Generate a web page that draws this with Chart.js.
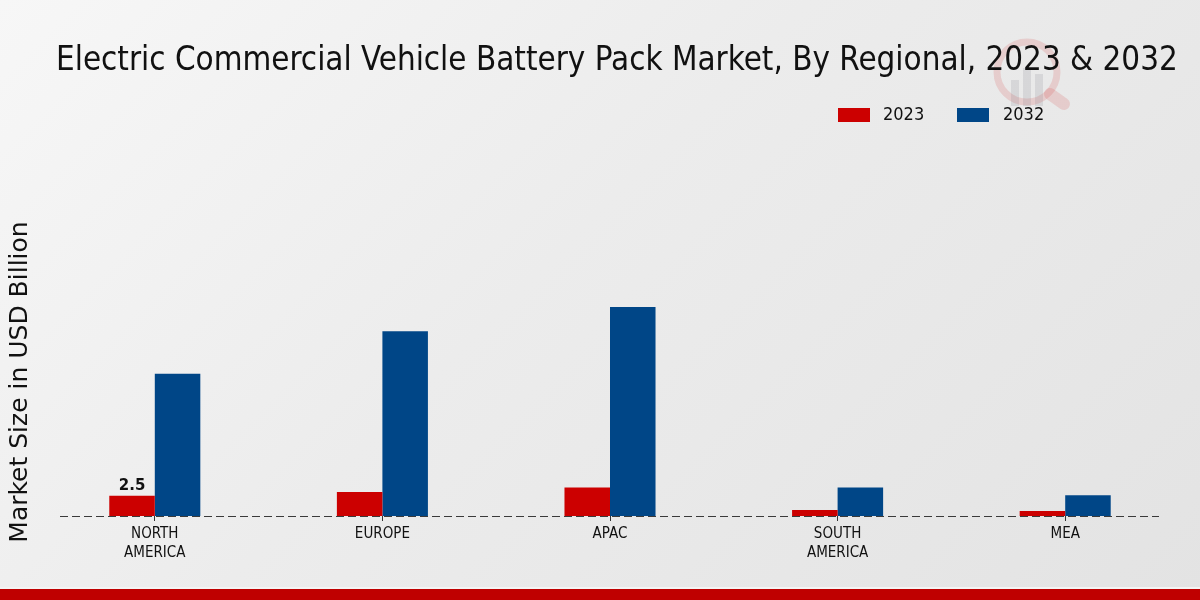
<!DOCTYPE html>
<html>
<head>
<meta charset="utf-8">
<script src="https://cdn.jsdelivr.net/npm/chart.js@4/dist/chart.umd.min.js"></script>
<style>
html,body{margin:0;padding:0;}
body{width:1200px;height:600px;overflow:hidden;background:linear-gradient(135deg,#f7f7f7 0%,#ececec 45%,#e3e3e3 100%);}
#wrap{position:relative;width:1200px;height:600px;}
#band{position:absolute;left:0;top:589px;width:1200px;height:11px;background:#bf0000;}
#bandline{position:absolute;left:0;top:587px;width:1200px;height:2px;background:#f4f4f4;}
</style>
</head>
<body>
<div id="wrap"><canvas id="c" width="1200" height="600"></canvas><div id="bandline"></div><div id="band"></div></div>
<script>
const chartTitle = "Electric Commercial Vehicle Battery Pack Market, By Regional, 2023 & 2032";
const yAxisTitle = "Market Size in USD Billion";
const categories = [["NORTH","AMERICA"],"EUROPE","APAC",["SOUTH","AMERICA"],"MEA"];
const seriesNames = ["2023","2032"];
const values2023 = [2.5, 2.95, 3.5, 0.74, 0.62];
const values2032 = [17.5, 22.7, 25.7, 3.5, 2.55];
const seriesColors = ["#cc0000","#004687"];
const labelShown = [["2.5"],[]]; // only first 2023 value labelled

const COND = "'DejaVu Sans Condensed','DejaVu Sans',sans-serif";
const SANS = "'DejaVu Sans',sans-serif";

const decor = {
  id:'decor',
  beforeDraw(chart){
    const ctx = chart.ctx;
    // watermark
    ctx.save();
    ctx.globalAlpha = 0.12;
    ctx.strokeStyle = '#cc0000';
    ctx.lineWidth = 7;
    ctx.beginPath(); ctx.arc(1027,72,30,0,Math.PI*2); ctx.stroke();
    ctx.lineCap='round'; ctx.lineWidth=12;
    ctx.beginPath(); ctx.moveTo(1050,94); ctx.lineTo(1064,104); ctx.stroke();
    ctx.fillStyle = '#556';
    ctx.globalAlpha = 0.12;
    ctx.fillRect(1011,80,8,26); ctx.fillRect(1023,68,8,38); ctx.fillRect(1035,74,8,32);
    ctx.restore();
  },
  afterDraw(chart){
    const ctx = chart.ctx;
    const x = chart.scales.x, y = chart.scales.y;
    ctx.save();
    // dashed baseline
    const y0 = Math.round(y.getPixelForValue(0)) + 0.5;
    ctx.strokeStyle = '#3a3a3a';
    ctx.lineWidth = 1.2;
    ctx.setLineDash([8,4]);
    ctx.beginPath(); ctx.moveTo(60,y0); ctx.lineTo(1159,y0); ctx.stroke();
    ctx.setLineDash([]);
    // title
    ctx.fillStyle = '#111';
    ctx.font = "31px " + COND;
    ctx.textBaseline = 'alphabetic';
    ctx.textAlign = 'left';
    let w = ctx.measureText(chartTitle).width;
    const target = 1122;
    const sz = 31 * target / w;
    ctx.font = sz.toFixed(2) + "px " + COND;
    ctx.fillText(chartTitle, 56, 70);
    // legend
    ctx.font = "18px " + COND;
    ctx.textBaseline = 'middle';
    const legendItems = [{x:838, tx:883},{x:957, tx:1003}];
    chart.data.datasets.forEach((ds,i)=>{
      const it = legendItems[i];
      ctx.fillStyle = ds.backgroundColor;
      ctx.fillRect(it.x,108,32,14);
      ctx.fillStyle = '#111';
      ctx.fillText(ds.label, it.tx, 115);
    });
    // y title
    ctx.save();
    ctx.translate(27, 382);
    ctx.rotate(-Math.PI/2);
    ctx.textAlign = 'center';
    ctx.textBaseline = 'alphabetic';
    ctx.font = "25px " + SANS;
    ctx.fillStyle = '#111';
    ctx.fillText(yAxisTitle, 0, 0);
    ctx.restore();
    // data labels
    ctx.font = "bold 15px " + SANS;
    ctx.textAlign = 'center';
    ctx.textBaseline = 'bottom';
    ctx.fillStyle = '#111';
    labelShown.forEach((labels, di)=>{
      const meta = chart.getDatasetMeta(di);
      labels.forEach((txt, j)=>{
        const el = meta.data[j];
        ctx.fillText(txt, el.x, el.y - 2);
      });
    });
    ctx.restore();
  }
};

new Chart(document.getElementById('c'), {
  type:'bar',
  data:{
    labels: categories,
    datasets:[
      {label:seriesNames[0], data:values2023, backgroundColor:seriesColors[0], borderWidth:0},
      {label:seriesNames[1], data:values2032, backgroundColor:seriesColors[1], borderWidth:0}
    ]
  },
  options:{
    responsive:false,
    animation:false,
    devicePixelRatio:1,
    layout:{padding:{left:41, right:21, top:272, bottom:34}},
    plugins:{legend:{display:false}, title:{display:false}, tooltip:{enabled:false}},
    datasets:{bar:{categoryPercentage:0.4, barPercentage:1}},
    scales:{
      x:{
        grid:{drawOnChartArea:false, drawTicks:true, tickLength:5, offset:false, color:'#333'},
        border:{display:false},
        ticks:{color:'#111', font:{family:COND, size:15, lineHeight:1.3}, padding:3, maxRotation:0}
      },
      y:{
        display:false, min:0, max:30
      }
    }
  },
  plugins:[decor]
});
</script>
</body>
</html>
